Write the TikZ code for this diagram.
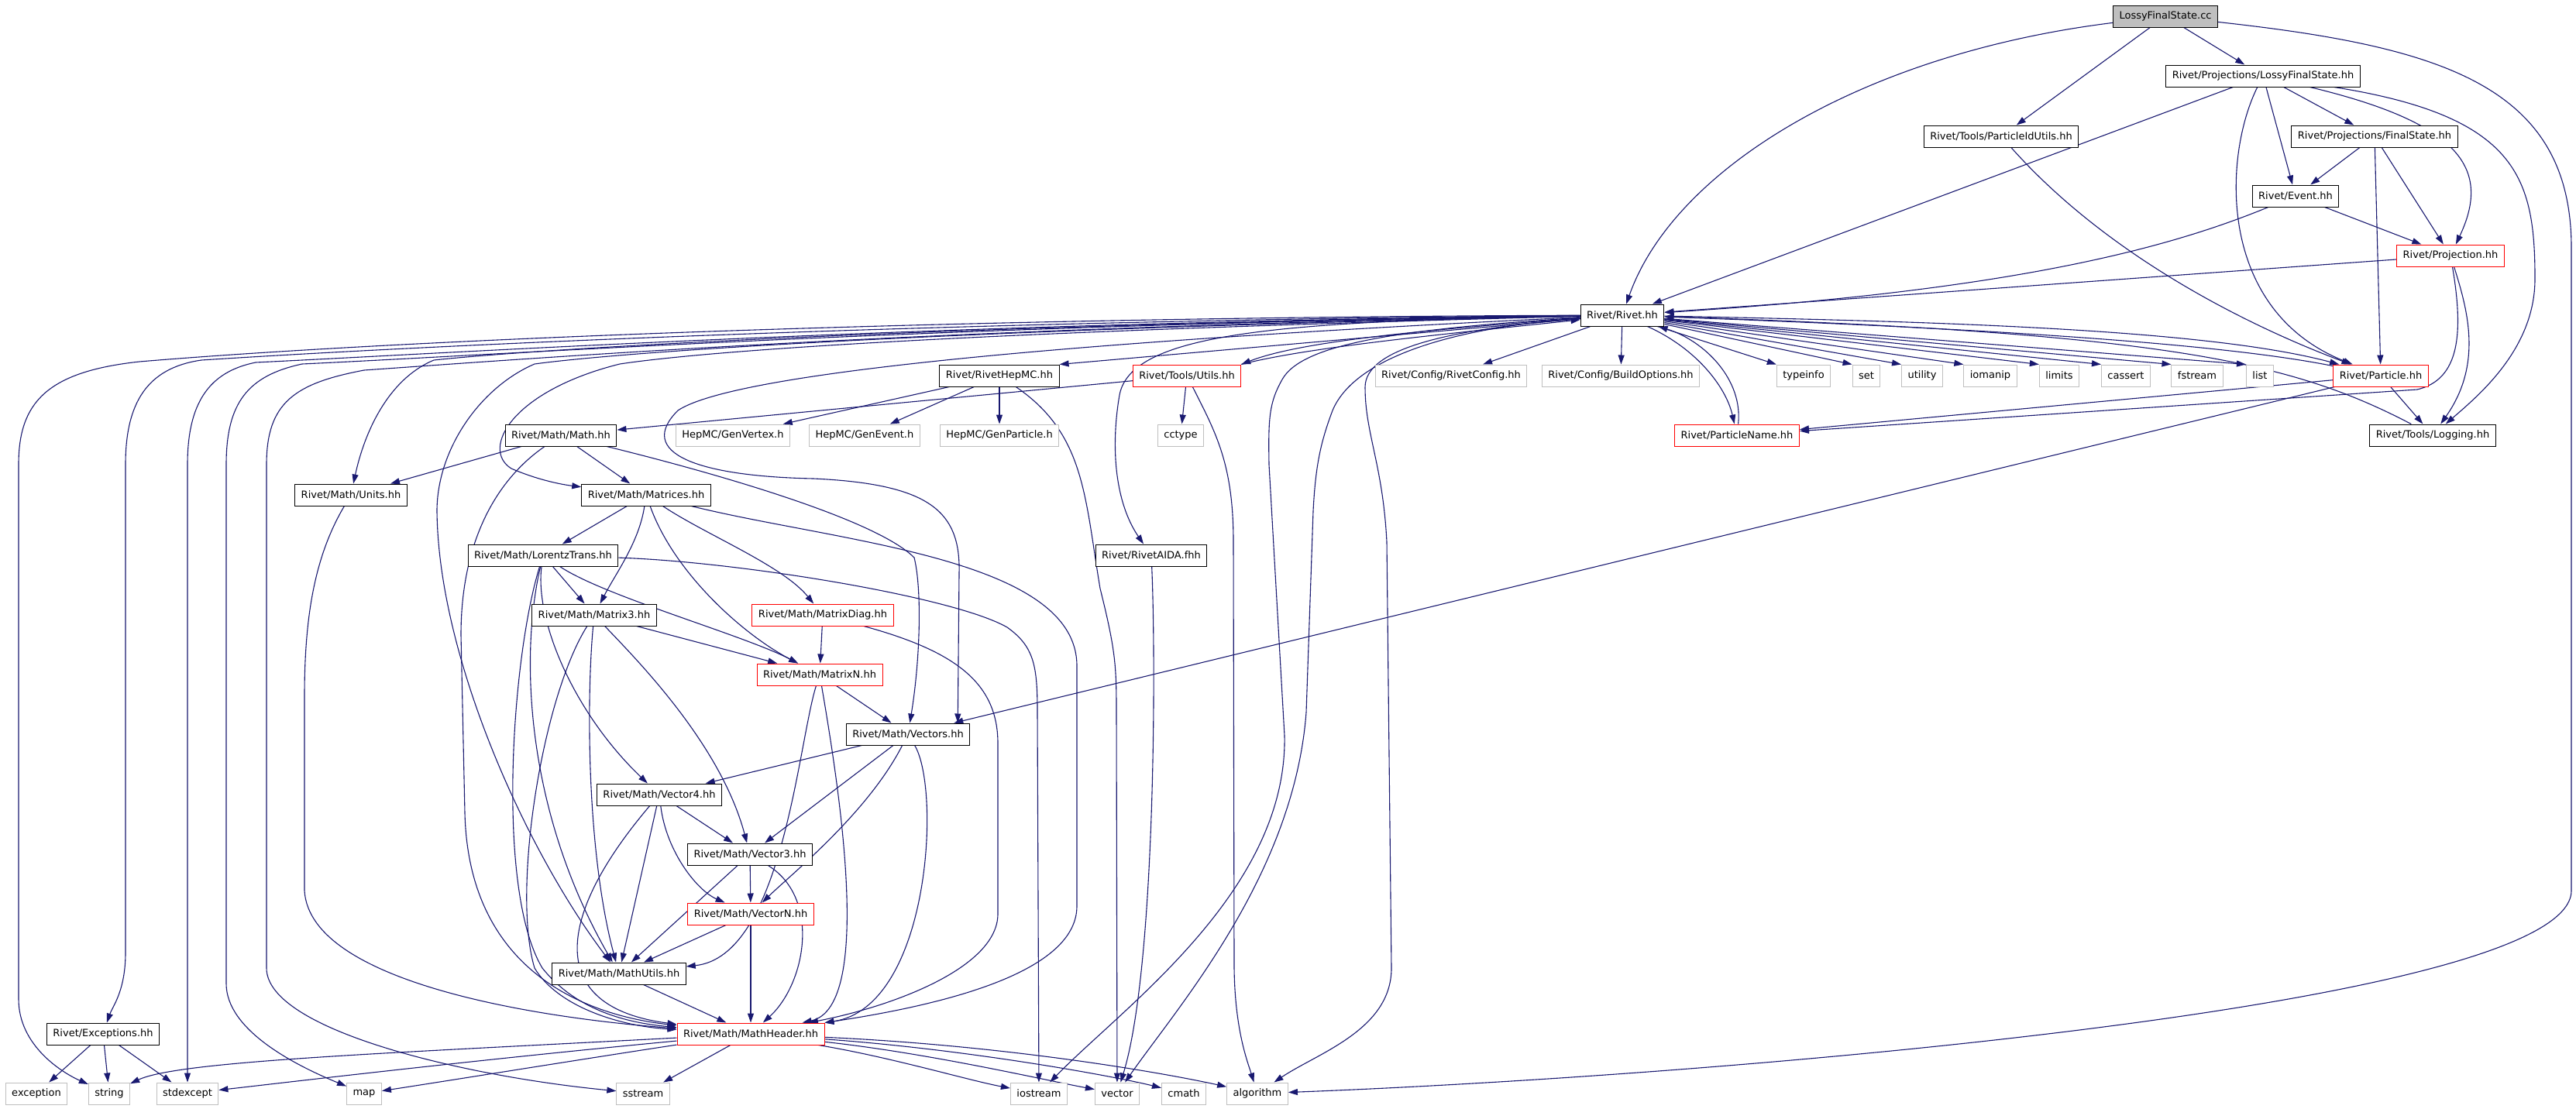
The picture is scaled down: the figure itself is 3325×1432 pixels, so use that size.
\documentclass[tikz,border=0pt]{standalone}
\usepackage{fontspec}
\setmainfont{DejaVu Sans}
\usetikzlibrary{arrows.meta,backgrounds}
\definecolor{edgeblue}{HTML}{191970}
\definecolor{sysgrey}{HTML}{BFBFBF}
\tikzstyle{incl}=[draw=edgeblue, line width=1.1pt, -{Triangle[length=12pt,width=8pt]}]
\tikzstyle{file}=[draw=black, fill=white, line width=1pt, minimum height=28pt, inner xsep=8pt, inner ysep=0pt, font=\fontsize{13}{15}\selectfont]
\tikzstyle{trunc}=[file, draw=red]
\tikzstyle{sys}=[file, draw=sysgrey]
\tikzstyle{mainfile}=[file, fill=sysgrey]

\begin{document}
\begin{tikzpicture}[x=1pt,y=-1pt]
\useasboundingbox (0,0) rectangle (3325,1432);

\node (lossycc) [mainfile] at (2795,21) {LossyFinalState.cc};
\node (lossyhh) [file] at (2921,98) {Rivet/Projections/LossyFinalState.hh};
\node (pidutils) [file] at (2583,176) {Rivet/Tools/ParticleIdUtils.hh};
\node (finalstate) [file] at (3065,176) {Rivet/Projections/FinalState.hh};
\node (event) [file] at (2963,253) {Rivet/Event.hh};
\node (projection) [trunc] at (3163,330) {Rivet/Projection.hh};
\node (rivet) [file] at (2094,407) {Rivet/Rivet.hh};

\node (rivethepmc) [file] at (1290,485) {Rivet/RivetHepMC.hh};
\node (utils) [trunc] at (1532,485) {Rivet/Tools/Utils.hh};
\node (rivetconfig) [sys] at (1873,485) {Rivet/Config/RivetConfig.hh};
\node (buildoptions) [sys] at (2092,485) {Rivet/Config/BuildOptions.hh};
\node (typeinfo) [sys] at (2328,485) {typeinfo};
\node (set) [sys] at (2409,485) {set};
\node (utility) [sys] at (2481,485) {utility};
\node (iomanip) [sys] at (2569,485) {iomanip};
\node (limits) [sys] at (2658,485) {limits};
\node (cassert) [sys] at (2744,485) {cassert};
\node (fstream) [sys] at (2836,485) {fstream};
\node (list) [sys] at (2917,485) {list};
\node (particle) [trunc] at (3073,485) {Rivet/Particle.hh};

\node (mathhh) [file] at (724,562) {Rivet/Math/Math.hh};
\node (genvertex) [sys] at (946,562) {HepMC/GenVertex.h};
\node (genevent) [sys] at (1116,562) {HepMC/GenEvent.h};
\node (genparticle) [sys] at (1290,562) {HepMC/GenParticle.h};
\node (cctype) [sys] at (1524,562) {cctype};
\node (particlename) [trunc] at (2242,562) {Rivet/ParticleName.hh};
\node (logging) [file] at (3140,562) {Rivet/Tools/Logging.hh};

\node (units) [file] at (453,639) {Rivet/Math/Units.hh};
\node (matrices) [file] at (834,639) {Rivet/Math/Matrices.hh};
\node (lorentz) [file] at (701,717) {Rivet/Math/LorentzTrans.hh};
\node (rivetaida) [file] at (1486,717) {Rivet/RivetAIDA.fhh};
\node (matrix3) [file] at (767,794) {Rivet/Math/Matrix3.hh};
\node (matrixdiag) [trunc] at (1062,794) {Rivet/Math/MatrixDiag.hh};
\node (matrixn) [trunc] at (1058,871) {Rivet/Math/MatrixN.hh};
\node (vectors) [file] at (1172,948) {Rivet/Math/Vectors.hh};
\node (vector4) [file] at (851,1026) {Rivet/Math/Vector4.hh};
\node (vector3) [file] at (968,1103) {Rivet/Math/Vector3.hh};
\node (vectorn) [trunc] at (969,1180) {Rivet/Math/VectorN.hh};
\node (mathutils) [file] at (799,1257) {Rivet/Math/MathUtils.hh};
\node (mathheader) [trunc] at (969,1335) {Rivet/Math/MathHeader.hh};
\node (exceptions) [file] at (133,1335) {Rivet/Exceptions.hh};

\node (exception) [sys] at (47,1412) {exception};
\node (string) [sys] at (141,1412) {string};
\node (stdexcept) [sys] at (242,1412) {stdexcept};
\node (map) [sys] at (470,1412) {map};
\node (sstream) [sys] at (830,1412) {sstream};
\node (iostream) [sys] at (1341,1412) {iostream};
\node (vector) [sys] at (1442,1412) {vector};
\node (cmath) [sys] at (1528,1412) {cmath};
\node (algorithm) [sys] at (1623,1412) {algorithm};

\begin{scope}[on background layer]
\draw [incl] (lossycc) -- (lossyhh);
\draw [incl] (lossycc) -- (pidutils);
\draw [incl] (lossycc) .. controls (2400,70) and (2160,220) .. (rivet);
\draw [incl] (lossycc) .. controls (3150,60) and (3319,110) .. (3319,320) -- (3319,1150) .. controls (3319,1300) and (2200,1390) .. (algorithm);

\draw [incl] (lossyhh) -- (rivet);
\draw [incl] (lossyhh) .. controls (2870,200) and (2860,400) .. (particle);
\draw [incl] (lossyhh) -- (event);
\draw [incl] (lossyhh) -- (finalstate);
\draw [incl] (lossyhh) .. controls (3180,160) and (3215,220) .. (projection);
\draw [incl] (lossyhh) .. controls (3250,150) and (3272,230) .. (3272,360) .. controls (3272,450) and (3200,510) .. (logging);

\draw [incl] (finalstate) -- (event);
\draw [incl] (finalstate) -- (projection);
\draw [incl] (finalstate) -- (particle);
\draw [incl] (pidutils) .. controls (2720,330) and (2900,420) .. (particle);
\draw [incl] (event) .. controls (2800,320) and (2600,375) .. (rivet);
\draw [incl] (event) -- (projection);

\draw [incl] (projection) -- (rivet);
\draw [incl] (projection) .. controls (3185,400) and (3205,470) .. (logging);
\draw [incl] (projection) .. controls (3180,430) and (3175,490) .. (3120,503) -- (particlename);

\draw [incl] (rivet) .. controls (2500,415) and (2850,425) .. (particle);
\draw [incl] (particle) .. controls (2850,440) and (2500,422) .. (rivet);
\draw [incl] (logging) .. controls (2960,468) and (2800,430) .. (rivet);
\draw [incl] (particle) -- (particlename);
\draw [incl] (particle) -- (logging);
\draw [incl] (particle) -- (vectors);
\draw [incl] (rivet) .. controls (2190,450) and (2228,500) .. (particlename);
\draw [incl] (particlename) .. controls (2250,490) and (2200,440) .. (rivet);

\draw [incl] (rivet) -- (rivetconfig);
\draw [incl] (rivet) -- (buildoptions);
\draw [incl] (rivet) -- (typeinfo.north west);
\draw [incl] (rivet) -- (set.north west);
\draw [incl] (rivet) -- (utility.north west);
\draw [incl] (rivet) -- (iomanip.north west);
\draw [incl] (rivet) -- (limits.north west);
\draw [incl] (rivet) -- (cassert.north west);
\draw [incl] (rivet) -- (fstream.north west);
\draw [incl] (rivet) -- (list.north west);

\draw [incl] (rivet) .. controls (1850,425) and (1680,440) .. (utils.north east);
\draw [incl] (utils.north east) .. controls (1690,448) and (1860,432) .. (rivet);
\draw [incl] (rivet) -- (rivethepmc.north east);
\draw [incl] (rivet) .. controls (1650,415) and (1460,430) .. (1445,510) .. controls (1433,580) and (1440,650) .. (rivetaida);
\draw [incl] (rivet) .. controls (1800,425) and (1680,445) .. (1655,490) .. controls (1638,520) and (1637,540) .. (1638,600) -- (1658,950) .. controls (1662,1150) and (1450,1300) .. (iostream);
\draw [incl] (rivet) .. controls (1850,425) and (1745,470) .. (1720,530) .. controls (1705,570) and (1698,600) .. (1695,660) -- (1686,920) .. controls (1670,1130) and (1520,1300) .. (vector);
\draw [incl] (rivet) .. controls (1870,425) and (1762,450) .. (1762,500) .. controls (1762,560) and (1785,600) .. (1790,700) -- (1796,1250) .. controls (1796,1330) and (1700,1360) .. (algorithm);

\draw [incl] (rivet) .. controls (1200,410) and (500,440) .. (180,467) .. controls (60,480) and (24,520) .. (24,600) -- (24,1290) .. controls (24,1350) and (80,1385) .. (string);
\draw [incl] (rivet) .. controls (1200,414) and (520,448) .. (260,465) .. controls (190,475) and (162,520) .. (162,600) -- (162,1230) .. controls (162,1280) and (145,1300) .. (exceptions);
\draw [incl] (rivet) .. controls (1200,417) and (600,455) .. (330,468) .. controls (270,480) and (242,520) .. (242,600) -- (stdexcept);
\draw [incl] (rivet) .. controls (1200,420) and (650,458) .. (390,470) .. controls (320,485) and (292,520) .. (292,600) -- (292,1270) .. controls (292,1330) and (380,1375) .. (map);
\draw [incl] (rivet) .. controls (1200,423) and (700,462) .. (470,478) .. controls (380,495) and (344,520) .. (344,600) -- (344,1250) .. controls (344,1330) and (600,1390) .. (sstream);
\draw [incl] (rivet) .. controls (1200,420) and (700,450) .. (560,465) .. controls (500,490) and (470,560) .. (units);
\draw [incl] (rivet) .. controls (1200,426) and (800,455) .. (690,470) .. controls (620,500) and (564,580) .. (564,660) .. controls (566,850) and (680,1100) .. (mathutils);
\draw [incl] (rivet) .. controls (1200,430) and (900,455) .. (800,470) .. controls (660,505) and (620,580) .. (660,605) .. controls (690,618) and (720,625) .. (matrices);
\draw [incl] (rivet) .. controls (1400,440) and (950,480) .. (875,530) .. controls (820,585) and (900,615) .. (1050,618) .. controls (1200,625) and (1240,660) .. (1238,740) -- ([xshift=-16pt]vectors.north east);

\draw [incl] (rivethepmc) -- (genvertex);
\draw [incl] (rivethepmc) -- (genevent);
\draw [incl] (rivethepmc) -- (genparticle);
\draw [incl] (rivethepmc) .. controls (1400,560) and (1400,640) .. (1420,760) .. controls (1440,840) and (1441,860) .. (1441,920) -- (vector);
\draw [incl] (utils) -- (cctype);
\draw [incl] (utils) .. controls (1570,560) and (1592,600) .. (1592,700) -- (1593,1250) .. controls (1594,1330) and (1610,1370) .. (algorithm);
\draw [incl] (utils) -- (mathhh);
\draw [incl] (rivetaida) .. controls (1492,850) and (1492,1250) .. (vector);

\draw [incl] (mathhh) -- (units);
\draw [incl] (mathhh) -- (matrices);
\draw [incl] (mathhh) .. controls (640,620) and (595,700) .. (595,820) -- (600,1050) .. controls (605,1250) and (750,1310) .. (mathheader);
\draw [incl] (mathhh) .. controls (920,610) and (1130,670) .. (1180,720) .. controls (1190,760) and (1188,850) .. (vectors);
\draw [incl] (units) .. controls (405,720) and (393,800) .. (393,900) -- (393,1150) .. controls (400,1270) and (700,1315) .. (mathheader);

\draw [incl] (matrices) -- (lorentz);
\draw [incl] (matrices) .. controls (825,700) and (795,740) .. (matrix3);
\draw [incl] (matrices) .. controls (870,740) and (960,820) .. (matrixn);
\draw [incl] (matrices) .. controls (910,690) and (1010,730) .. (matrixdiag);
\draw [incl] (matrices) .. controls (1080,700) and (1390,720) .. (1390,860) -- (1390,1170) .. controls (1390,1260) and (1200,1300) .. (mathheader);

\draw [incl] (lorentz) -- (matrix3);
\draw [incl] (lorentz) .. controls (780,770) and (960,820) .. (matrixn);
\draw [incl] (lorentz) .. controls (950,725) and (1230,770) .. (1300,810) .. controls (1335,835) and (1339,860) .. (1339,920) -- (iostream);
\draw [incl] (lorentz) .. controls (690,800) and (740,920) .. (vector4);
\draw [incl] (lorentz) .. controls (670,850) and (680,1050) .. (mathutils);
\draw [incl] (lorentz) .. controls (660,850) and (640,1150) .. (700,1250) .. controls (740,1300) and (800,1320) .. (mathheader);

\draw [incl] (matrix3) -- (matrixn);
\draw [incl] (matrix3) .. controls (757,900) and (757,1100) .. (mathutils);
\draw [incl] (matrix3) .. controls (700,900) and (660,1150) .. (690,1250) .. controls (720,1300) and (800,1325) .. (mathheader);
\draw [incl] (matrix3) .. controls (820,850) and (930,960) .. (vector3);

\draw [incl] (matrixdiag) -- (matrixn);
\draw [incl] (matrixdiag) .. controls (1230,840) and (1288,880) .. (1288,960) -- (1288,1180) .. controls (1288,1250) and (1150,1300) .. (mathheader);
\draw [incl] (matrixn) -- (vectors);
\draw [incl] (matrixn) .. controls (1030,960) and (1010,1235) .. (mathutils);
\draw [incl] (matrixn) .. controls (1080,1000) and (1130,1300) .. (mathheader);

\draw [incl] (vectors) -- (vector4);
\draw [incl] (vectors) -- (vector3);
\draw [incl] (vectors) .. controls (1120,1050) and (1020,1130) .. (vectorn);
\draw [incl] (vectors) .. controls (1215,1020) and (1200,1300) .. (mathheader);
\draw [incl] (vector4) -- (vector3);
\draw [incl] (vector4) -- (mathutils);
\draw [incl] (vector4) .. controls (860,1100) and (900,1150) .. (vectorn);
\draw [incl] (vector4) .. controls (720,1180) and (700,1300) .. (mathheader);
\draw [incl] (vector3) -- (vectorn);
\draw [incl] (vector3) -- (mathutils);
\draw [incl] (vector3) .. controls (1060,1160) and (1040,1270) .. (mathheader);
\draw [incl] (vectorn) -- (mathutils);
\draw [incl] (vectorn) -- (mathheader);
\draw [incl] (mathutils) -- (mathheader);

\draw [incl] (mathheader) .. controls (500,1360) and (230,1370) .. (string);
\draw [incl] (mathheader) .. controls (600,1370) and (350,1400) .. (stdexcept);
\draw [incl] (mathheader) .. controls (800,1360) and (550,1400) .. (map);
\draw [incl] (mathheader) -- (sstream);
\draw [incl] (mathheader) .. controls (1150,1365) and (1250,1395) .. (iostream);
\draw [incl] (mathheader) .. controls (1200,1360) and (1350,1395) .. (vector);
\draw [incl] (mathheader) .. controls (1250,1355) and (1440,1390) .. (cmath);
\draw [incl] (mathheader) .. controls (1300,1350) and (1500,1385) .. (algorithm);

\draw [incl] (exceptions) -- (exception);
\draw [incl] (exceptions) -- (string);
\draw [incl] (exceptions) -- (stdexcept);
\end{scope}

\end{tikzpicture}
\end{document}
